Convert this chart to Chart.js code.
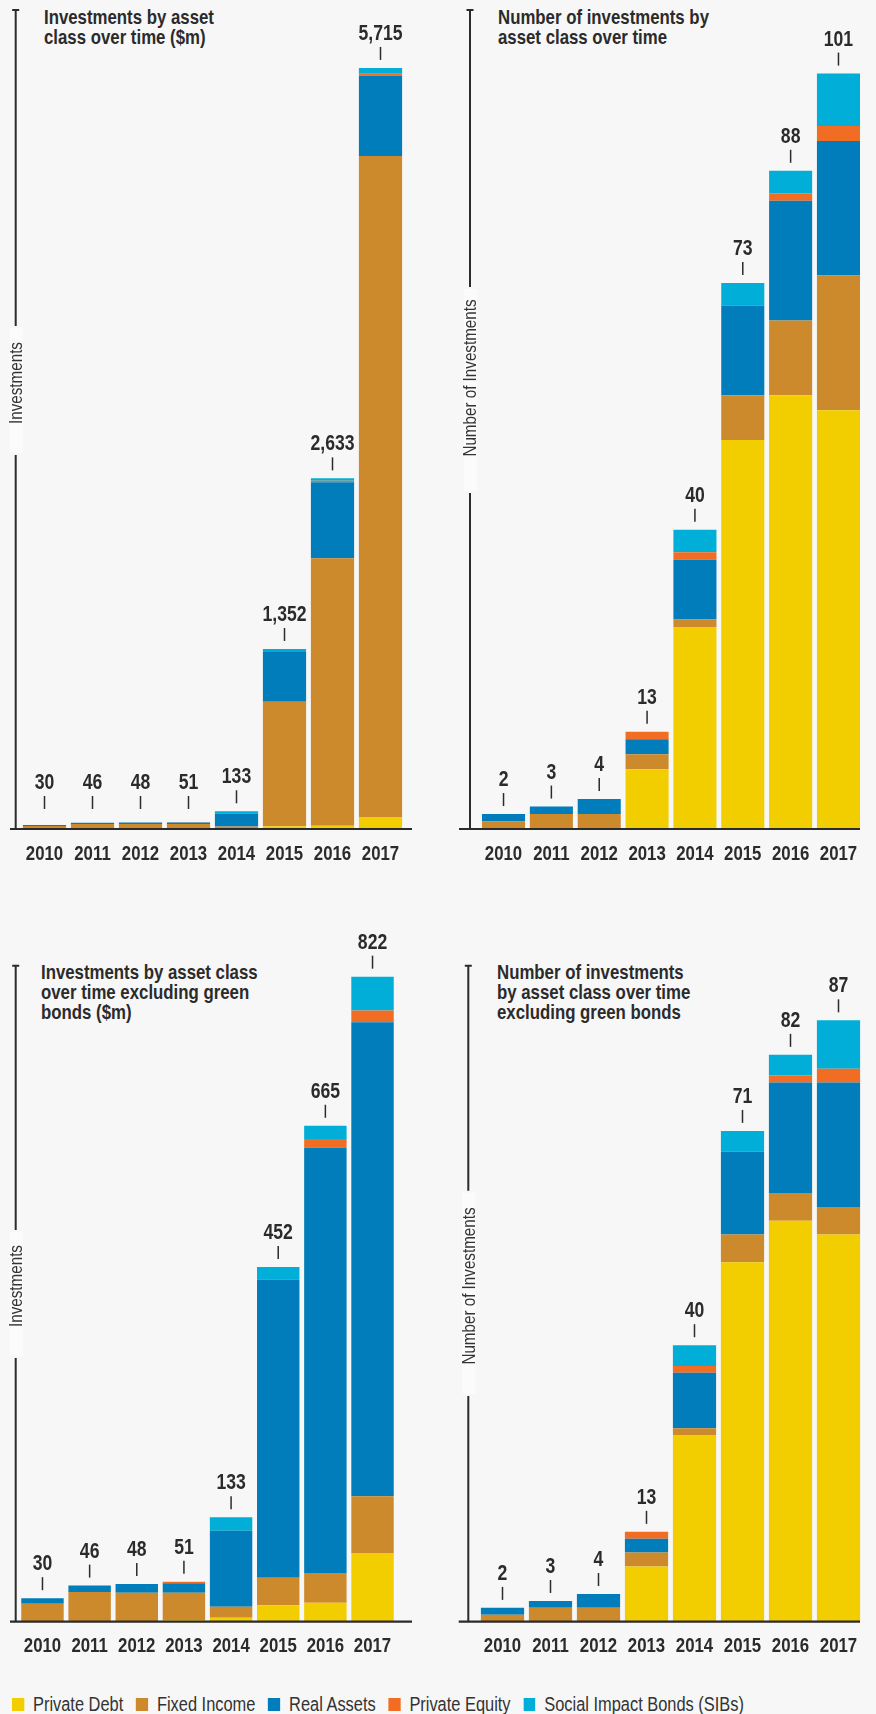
<!DOCTYPE html>
<html>
<head>
<meta charset="utf-8">
<script src="https://cdn.jsdelivr.net/npm/chart.js@4.4.1/dist/chart.umd.min.js"></script>
<style>
  html, body { margin: 0; padding: 0; background: #f7f7f7; }
  body {
    width: 876px; height: 1714px; position: relative; overflow: hidden;
    font-family: "Liberation Sans", Arial, sans-serif;
    color: #2b2b2b;
  }
  .panel { position: absolute; }
  /* the original uses a condensed face; squeeze Liberation Sans to narrow width */
  .title {
    position: absolute; font-weight: bold; font-size: 21px; line-height: 20px;
    white-space: nowrap; color: #2b2b2b;
    transform: scaleX(0.80); transform-origin: 0 0;
  }
  .legend {
    position: absolute; left: 12px; top: 1693px; height: 22px;
    display: flex; align-items: center; font-size: 20px; color: #333;
    white-space: nowrap;
    transform: scaleX(0.82); transform-origin: 0 0;
  }
  .legend span.item { display: flex; align-items: center; margin-right: 15.5px; }
  .legend i { display: inline-block; width: 14.6px; height: 13px; margin-right: 11px; }
</style>
</head>
<body>

<div class="title" style="left:44px; top:7px;">Investments by asset<br>class over time ($m)</div>
<div class="title" style="left:498px; top:7px;">Number of investments by<br>asset class over time</div>
<div class="title" style="left:41px; top:962px;">Investments by asset class<br>over time excluding green<br>bonds ($m)</div>
<div class="title" style="left:497px; top:962px;">Number of investments<br>by asset class over time<br>excluding green bonds</div>

<div class="panel" style="left:0; top:0; width:438px; height:880px;"><canvas id="chart-value"></canvas></div>
<div class="panel" style="left:438px; top:0; width:438px; height:880px;"><canvas id="chart-count"></canvas></div>
<div class="panel" style="left:0; top:880px; width:438px; height:800px;"><canvas id="chart-value-excl"></canvas></div>
<div class="panel" style="left:438px; top:880px; width:438px; height:800px;"><canvas id="chart-count-excl"></canvas></div>

<div class="legend" id="legend"></div>

<script>
/* ---------- data ---------- */
const YEARS = ['2010', '2011', '2012', '2013', '2014', '2015', '2016', '2017'];
const SERIES = ['Private Debt', 'Fixed Income', 'Real Assets', 'Private Equity', 'Social Impact Bonds (SIBs)'];
const SERIES_COLORS = ['#F2CD00', '#CD8A2C', '#007DBA', '#F26D24', '#00AED7'];

// investments by asset class ($m)
const valuePrivateDebt    = [0, 0, 0, 2, 5, 21, 25, 87];
const valueFixedIncome    = [23, 38, 37, 35, 14, 934, 2008, 4966];
const valueRealAssets     = [7, 8, 11, 12, 97, 380, 570, 604];
const valuePrivateEquity  = [0, 0, 0, 2, 0, 0, 12, 15];
const valueSIBs           = [0, 0, 0, 0, 17, 17, 18, 43];
const valueTotals         = ['30', '46', '48', '51', '133', '1,352', '2,633', '5,715'];

// number of investments by asset class
const countPrivateDebt    = [0, 0, 0, 8, 27, 52, 58, 56];
const countFixedIncome    = [1, 2, 2, 2, 1, 6, 10, 18];
const countRealAssets     = [1, 1, 2, 2, 8, 12, 16, 18];
const countPrivateEquity  = [0, 0, 0, 1, 1, 0, 1, 2];
const countSIBs           = [0, 0, 0, 0, 3, 3, 3, 7];
const countTotals         = ['2', '3', '4', '13', '40', '73', '88', '101'];

// investments excluding green bonds ($m)
const exclPrivateDebt     = [0, 0, 0, 2, 5, 21, 24, 87];
const exclFixedIncome     = [23, 38, 37, 35, 14, 35, 38, 73];
const exclRealAssets      = [7, 8, 11, 12, 97, 380, 542, 604];
const exclPrivateEquity   = [0, 0, 0, 2, 0, 0, 11, 15];
const exclSIBs            = [0, 0, 0, 0, 17, 16, 17, 43];
const exclTotals          = ['30', '46', '48', '51', '133', '452', '665', '822'];

// number of investments excluding green bonds
const exclCountPrivateDebt   = [0, 0, 0, 8, 27, 52, 58, 56];
const exclCountFixedIncome   = [1, 2, 2, 2, 1, 4, 4, 4];
const exclCountRealAssets    = [1, 1, 2, 2, 8, 12, 16, 18];
const exclCountPrivateEquity = [0, 0, 0, 1, 1, 0, 1, 2];
const exclCountSIBs          = [0, 0, 0, 0, 3, 3, 3, 7];
const exclCountTotals        = ['2', '3', '4', '13', '40', '71', '82', '87'];

/* ---------- styling ---------- */
const FONT = '"Liberation Sans", Arial, sans-serif';
const SQUEEZE = 0.80;   // horizontal scale to imitate the condensed face
const INK = '#2b2b2b';
const XAXIS_H = 40;

function narrowText(ctx, text, x, y, rotate) {
  ctx.save();
  ctx.translate(x, y);
  if (rotate) ctx.rotate(rotate);
  ctx.scale(SQUEEZE, 1);
  ctx.fillText(text, 0, 0);
  ctx.restore();
}

// draws the custom axis line (with a gap for its label), the baseline, year labels and totals
const decorPlugin = {
  id: 'decor',
  afterDatasetsDraw(chart, args, opts) {
    const { ctx, chartArea, scales: { x, y } } = chart;
    const base = y.getPixelForValue(0);
    ctx.save();
    ctx.strokeStyle = INK;
    ctx.fillStyle = INK;

    // baseline
    ctx.lineWidth = 2.2;
    ctx.beginPath();
    ctx.moveTo(opts.baseFrom, base);
    ctx.lineTo(opts.baseTo, base);
    ctx.stroke();

    // vertical axis line, broken around the label
    ctx.lineWidth = 2;
    ctx.beginPath();
    ctx.moveTo(opts.axisX, chartArea.top);
    ctx.lineTo(opts.axisX, opts.gap[0]);
    ctx.moveTo(opts.axisX, opts.gap[1]);
    ctx.lineTo(opts.axisX, base);
    ctx.moveTo(opts.axisX - 3.5, chartArea.top);
    ctx.lineTo(opts.axisX + 3.5, chartArea.top);
    ctx.stroke();

    ctx.fillStyle = '#fbfbfb';
    ctx.fillRect(opts.axisX - 6, opts.gap[0] + 2, 13, opts.gap[1] - opts.gap[0] - 4);
    ctx.fillStyle = '#333';
    ctx.font = '19px ' + FONT;
    ctx.textAlign = 'center';
    ctx.textBaseline = 'middle';
    narrowText(ctx, opts.label, opts.axisX + 1, opts.labelY, -Math.PI / 2);

    ctx.fillStyle = INK;
    // year labels under the baseline
    ctx.font = 'bold 21px ' + FONT;
    YEARS.forEach((yr, i) => {
      narrowText(ctx, yr, x.getPixelForValue(i), base + 25);
    });

    // totals above each stack
    ctx.font = 'bold 22px ' + FONT;
    ctx.lineWidth = 1.5;
    YEARS.forEach((yr, i) => {
      const sum = chart.data.datasets.reduce((s, ds) => s + ds.data[i], 0);
      const top = y.getPixelForValue(sum);
      const cx = x.getPixelForValue(i);
      const ly = Math.min(top - 35, base - 47);
      narrowText(ctx, opts.totals[i], cx, ly + 1);
      ctx.beginPath();
      ctx.moveTo(cx, ly + 14);
      ctx.lineTo(cx, ly + 27);
      ctx.stroke();
    });
    ctx.restore();
  }
};

function buildChart(canvasId, series, totals, layout) {
  const ctx = document.getElementById(canvasId).getContext('2d');
  return new Chart(ctx, {
    type: 'bar',
    data: {
      labels: YEARS,
      datasets: series.map((data, k) => ({
        label: SERIES[k],
        data: data,
        backgroundColor: SERIES_COLORS[k],
        borderWidth: 0,
        barPercentage: 0.9,
        categoryPercentage: 1.0
      }))
    },
    options: {
      responsive: true,
      maintainAspectRatio: false,
      animation: false,
      layout: {
        padding: {
          left: layout.area[0],
          right: layout.width - layout.area[1],
          top: layout.area[2],
          bottom: layout.height - layout.area[3] - XAXIS_H
        }
      },
      plugins: {
        legend: { display: false },
        tooltip: { enabled: false },
        decor: {
          totals: totals,
          axisX: layout.axisX,
          gap: layout.gap,
          labelY: layout.labelY,
          label: layout.label,
          baseFrom: layout.baseFrom,
          baseTo: layout.baseTo
        }
      },
      scales: {
        x: {
          stacked: true,
          grid: { display: false, drawTicks: false },
          border: { display: false },
          ticks: { display: false },
          afterFit: s => { s.height = XAXIS_H; }
        },
        y: {
          stacked: true,
          display: false,
          min: 0,
          max: layout.yMax
        }
      }
    },
    plugins: [decorPlugin]
  });
}

buildChart('chart-value',
  [valuePrivateDebt, valueFixedIncome, valueRealAssets, valuePrivateEquity, valueSIBs],
  valueTotals,
  { width: 438, height: 880, area: [20.5, 404.5, 10, 829], yMax: 6150,
    axisX: 15.7, gap: [326, 455], labelY: 383, label: 'Investments', baseFrom: 10, baseTo: 412 });

buildChart('chart-count',
  [countPrivateDebt, countFixedIncome, countRealAssets, countPrivateEquity, countSIBs],
  countTotals,
  { width: 438, height: 880, area: [41.6, 424.4, 10, 829], yMax: 109.5,
    axisX: 32, gap: [287, 493], labelY: 378, label: 'Number of Investments', baseFrom: 21, baseTo: 422 });

buildChart('chart-value-excl',
  [exclPrivateDebt, exclFixedIncome, exclRealAssets, exclPrivateEquity, exclSIBs],
  exclTotals,
  { width: 438, height: 800, area: [18.9, 396.1, 85.7, 741.7], yMax: 836,
    axisX: 15.7, gap: [350, 478], labelY: 406, label: 'Investments', baseFrom: 10, baseTo: 412 });

buildChart('chart-count-excl',
  [exclCountPrivateDebt, exclCountFixedIncome, exclCountRealAssets, exclCountPrivateEquity, exclCountSIBs],
  exclCountTotals,
  { width: 438, height: 800, area: [40.5, 424.5, 85.7, 741.7], yMax: 94.9,
    axisX: 30.3, gap: [310.7, 516], labelY: 406, label: 'Number of Investments', baseFrom: 20.7, baseTo: 422 });

// shared legend
const legend = document.getElementById('legend');
SERIES.forEach((name, k) => {
  const item = document.createElement('span');
  item.className = 'item';
  item.innerHTML = `<i style="background:${SERIES_COLORS[k]}"></i>${name}`;
  legend.appendChild(item);
});
</script>
</body>
</html>
